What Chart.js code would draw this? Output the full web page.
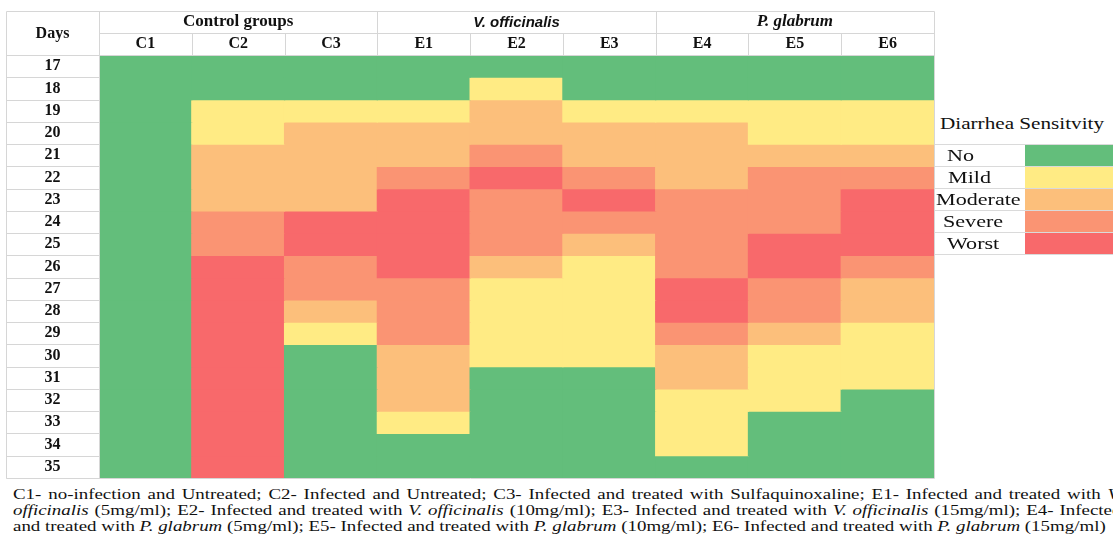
<!DOCTYPE html>
<html>
<head>
<meta charset="utf-8">
<title>Diarrhea sensitivity by day</title>
<script src="https://cdn.jsdelivr.net/npm/chart.js@4.4.1/dist/chart.umd.min.js"></script>
<style>
  html, body { margin: 0; padding: 0; background: #fff; width: 1113px; height: 534px; overflow: hidden; }
  #heat { position: absolute; left: 0; top: 0; }
  .serif { font-family: "Liberation Serif", "Times New Roman", serif; color: #111; }
  #keyTitle { position: absolute; left: 940px; top: 113px; font-size: 17px; line-height: 22px;
              white-space: nowrap; transform: scaleX(1.245); transform-origin: left center; }
  #key { position: absolute; left: 935px; top: 144px; width: 178px; border-bottom: 1px solid #dadada; }
  .krow { display: flex; height: 22px; box-sizing: border-box; border-top: 1px solid #dadada; }
  .klab { width: 90px; font-size: 17px; line-height: 21px; white-space: nowrap; box-sizing: border-box; }
  .klab span { display: inline-block; transform: scaleX(1.3); transform-origin: left center; }
  .ksw { flex: 1; }
  .krow:nth-child(1) .klab { padding-left: 12px; }
  .krow:nth-child(2) .klab { padding-left: 13px; }
  .krow:nth-child(3) .klab { padding-left: 1px; }
  .krow:nth-child(4) .klab { padding-left: 8px; }
  .krow:nth-child(5) .klab { padding-left: 12px; }
  #notes { position: absolute; left: 13px; top: 486px; font-size: 15px; line-height: 16px;
           white-space: nowrap; transform: scaleX(1.261); transform-origin: left top; }
  #notes .full { width: 879px; text-align: justify; text-align-last: justify; }
</style>
</head>
<body>
<canvas id="heat" width="940" height="480"></canvas>
<div id="keyTitle" class="serif">Diarrhea Sensitvity</div>
<div id="key" class="serif"></div>
<div id="notes" class="serif">
  <div class="full">C1- no-infection and Untreated; C2- Infected and Untreated; C3- Infected and treated with Sulfaquinoxaline; E1- Infected and treated with <i>V.</i></div>
  <div class="full"><i>officinalis</i> (5mg/ml); E2- Infected and treated with <i>V. officinalis</i> (10mg/ml); E3- Infected and treated with <i>V. officinalis</i> (15mg/ml); E4- Infected</div>
  <div>and treated with <i>P. glabrum</i> (5mg/ml); E5- Infected and treated with <i>P. glabrum</i> (10mg/ml); E6- Infected and treated with <i>P. glabrum</i> (15mg/ml)</div>
</div>
<script>
// Observation days (rows) and experimental groups (columns)
const days = [17, 18, 19, 20, 21, 22, 23, 24, 25, 26, 27, 28, 29, 30, 31, 32, 33, 34, 35];
const groupNames = ['C1', 'C2', 'C3', 'E1', 'E2', 'E3', 'E4', 'E5', 'E6'];
const treatmentHeads = ['Control groups', 'V. officinalis', 'P. glabrum'];

// Severity scale: 0 = No, 1 = Mild, 2 = Moderate, 3 = Severe, 4 = Worst
const levelNames = ['No', 'Mild', 'Moderate', 'Severe', 'Worst'];
const levelColors = ['#63be7b', '#ffeb84', '#fcbf7b', '#fa9473', '#f8696b'];

// Severity per day (17 … 35) for each group
const C1 = [0, 0, 0, 0, 0, 0, 0, 0, 0, 0, 0, 0, 0, 0, 0, 0, 0, 0, 0];
const C2 = [0, 0, 1, 1, 2, 2, 2, 3, 3, 4, 4, 4, 4, 4, 4, 4, 4, 4, 4];
const C3 = [0, 0, 1, 2, 2, 2, 2, 4, 4, 3, 3, 2, 1, 0, 0, 0, 0, 0, 0];
const E1 = [0, 0, 1, 2, 2, 3, 4, 4, 4, 4, 3, 3, 3, 2, 2, 2, 1, 0, 0];
const E2 = [0, 1, 2, 2, 3, 4, 3, 3, 3, 2, 1, 1, 1, 1, 0, 0, 0, 0, 0];
const E3 = [0, 0, 1, 2, 2, 3, 4, 3, 2, 1, 1, 1, 1, 1, 0, 0, 0, 0, 0];
const E4 = [0, 0, 1, 2, 2, 2, 3, 3, 3, 3, 4, 4, 3, 2, 2, 1, 1, 1, 0];
const E5 = [0, 0, 1, 1, 2, 3, 3, 3, 4, 4, 3, 3, 2, 1, 1, 1, 0, 0, 0];
const E6 = [0, 0, 1, 1, 2, 3, 4, 4, 4, 3, 2, 2, 1, 1, 1, 0, 0, 0, 0];

const columns = [C1, C2, C3, E1, E2, E3, E4, E5, E6];

const SERIF = '"Liberation Serif", "Times New Roman", serif';
const SANS = '"Liberation Sans", Arial, sans-serif';
const INK = '#111';
const RULE = '#d6d6d6';

// Severity key beside the grid
const key = document.getElementById('key');
levelNames.forEach((name, i) => {
  const row = document.createElement('div');
  row.className = 'krow';
  const lab = document.createElement('div');
  lab.className = 'klab';
  const txt = document.createElement('span');
  txt.textContent = name;
  lab.appendChild(txt);
  const sw = document.createElement('div');
  sw.className = 'ksw';
  sw.style.background = levelColors[i];
  row.appendChild(lab);
  row.appendChild(sw);
  key.appendChild(row);
});

// One floating-bar dataset per day: each bar spans that day's row, coloured by severity
const datasets = days.map((day, i) => ({
  label: 'Day ' + day,
  data: columns.map(() => [day - 0.5, day + 0.5]),
  backgroundColor: columns.map(col => levelColors[col[i]]),
  borderWidth: 0,
  barPercentage: 1,
  categoryPercentage: 1,
  grouped: false,
  inflateAmount: 0.6
}));

// Table rules, header cells and the "Days" heading
const tableFrame = {
  id: 'tableFrame',
  afterDraw(chart) {
    const { ctx, chartArea: area, scales } = chart;
    const x = scales.x, y = scales.y, head = scales.head;
    const left = y.left, top = head.top;
    const px = v => Math.round(v) + 0.5;
    ctx.save();
    ctx.strokeStyle = RULE;
    ctx.lineWidth = 1;
    const seg = (x1, y1, x2, y2) => {
      ctx.beginPath();
      ctx.moveTo(px(x1), px(y1));
      ctx.lineTo(px(x2), px(y2));
      ctx.stroke();
    };
    seg(left, top, area.right, top);
    seg(area.left, x.top, area.right, x.top);
    seg(left, area.top, area.right, area.top);
    seg(left, area.bottom, area.right, area.bottom);
    seg(left, top, left, area.bottom);
    seg(area.left, top, area.left, area.bottom);
    seg(area.right, top, area.right, area.bottom);

    const perHead = groupNames.length / treatmentHeads.length;
    for (let i = 1; i < groupNames.length; i++) {
      const xb = x.getPixelForValue(i - 0.5);
      seg(xb, i % perHead === 0 ? head.top : x.top, xb, x.bottom);
    }
    days.forEach(d => {
      const yb = y.getPixelForValue(d + 0.5);
      seg(left, yb, area.left, yb);
    });

    ctx.fillStyle = INK;
    ctx.font = 'bold 16px ' + SERIF;
    ctx.textAlign = 'center';
    ctx.textBaseline = 'middle';
    ctx.fillText('Days', (left + area.left) / 2, (head.top + x.bottom) / 2 + 1);
    ctx.restore();
  }
};

const headFonts = [
  { family: SERIF, size: 17, weight: 'bold', style: 'normal', lineHeight: 1 },
  { family: SANS, size: 15, weight: 'bold', style: 'italic', lineHeight: 1 },
  { family: SERIF, size: 17, weight: 'bold', style: 'italic', lineHeight: 1 }
];

new Chart(document.getElementById('heat'), {
  type: 'bar',
  data: { labels: groupNames, datasets },
  plugins: [tableFrame],
  options: {
    responsive: false,
    maintainAspectRatio: false,
    animation: false,
    events: [],
    layout: { padding: { left: 6, top: 11, right: 6, bottom: 2 } },
    plugins: { legend: { display: false }, tooltip: { enabled: false } },
    scales: {
      x: {
        type: 'category',
        labels: groupNames,
        position: 'top',
        offset: true,
        grid: { display: false, drawTicks: false },
        border: { display: false },
        ticks: {
          autoSkip: false, maxRotation: 0, padding: 3, color: INK,
          font: { family: SERIF, size: 16, weight: 'bold', lineHeight: 1 }
        },
        afterFit: s => { s.height = 22; s.paddingLeft = 0; s.paddingRight = 0; }
      },
      head: {
        type: 'category',
        labels: treatmentHeads,
        position: 'top',
        offset: true,
        weight: 1,
        grid: { display: false, drawTicks: false },
        border: { display: false },
        ticks: {
          autoSkip: false, maxRotation: 0, padding: 3, color: INK,
          font: c => headFonts[c.index] || headFonts[0]
        },
        afterFit: s => { s.height = 22; s.paddingLeft = 0; s.paddingRight = 0; }
      },
      y: {
        type: 'linear',
        reverse: true,
        min: days[0] - 0.5,
        max: days[days.length - 1] + 0.5,
        grid: { display: false, drawTicks: false },
        border: { display: false },
        afterBuildTicks: s => { s.ticks = days.map(v => ({ value: v })); },
        ticks: {
          autoSkip: false, crossAlign: 'center', padding: 38.5, color: INK,
          font: { family: SERIF, size: 16, weight: 'bold' }
        },
        // the tick padding only centres labels in the Days column; keep it out of the vertical layout
        afterFit: s => { s.width = 93; s.paddingTop = 0; s.paddingBottom = 0; }
      }
    }
  }
});
</script>
</body>
</html>
